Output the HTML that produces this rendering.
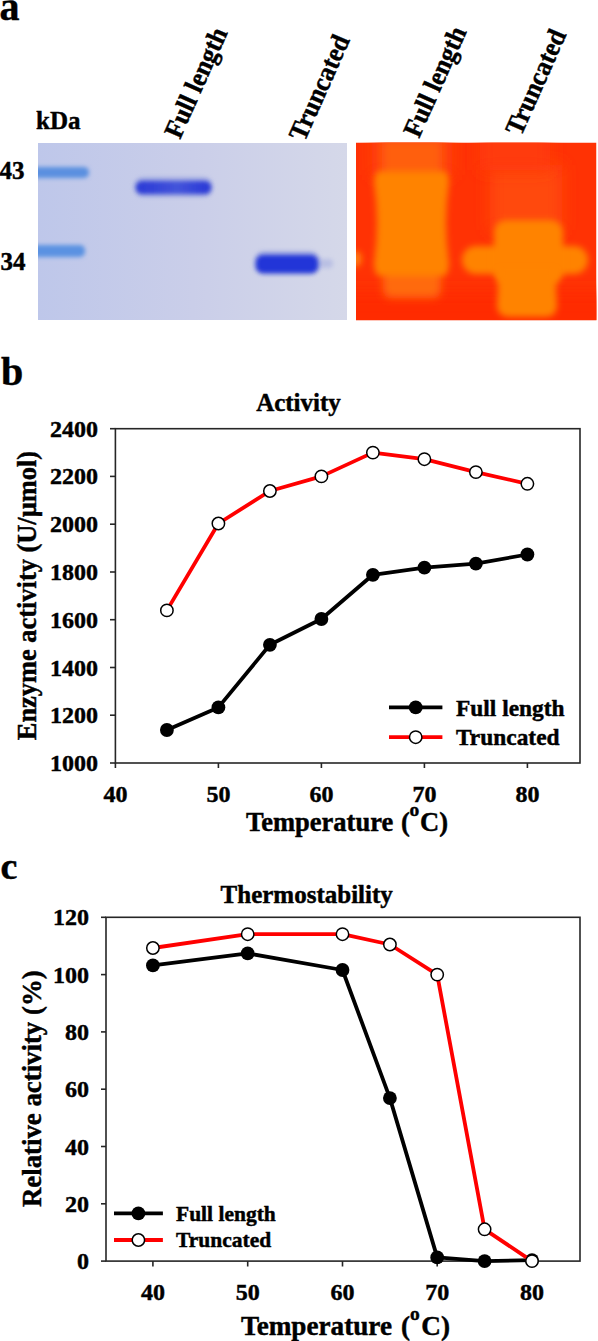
<!DOCTYPE html>
<html><head><meta charset="utf-8"><style>
html,body{margin:0;padding:0;background:#fff;width:598px;height:1341px;overflow:hidden}
svg{display:block}
</style></head><body>
<svg width="598" height="1341" viewBox="0 0 598 1341">
<text x="-0.5" y="20" font-family="Liberation Serif" font-weight="bold" stroke="#000" stroke-width="0.45" font-size="40">a</text>
<text x="36" y="129" font-family="Liberation Serif" font-weight="bold" stroke="#000" stroke-width="0.45" font-size="25">kDa</text>
<text x="-0.5" y="179" font-family="Liberation Serif" font-weight="bold" stroke="#000" stroke-width="0.45" font-size="25">43</text>
<text x="0.5" y="270" font-family="Liberation Serif" font-weight="bold" stroke="#000" stroke-width="0.45" font-size="25">34</text>
<text transform="translate(180,140) rotate(-66) scale(0.94,1)" font-family="Liberation Serif" font-weight="bold" stroke="#000" stroke-width="0.45" font-size="27">Full length</text>
<text transform="translate(304.5,142.5) rotate(-66) scale(0.94,1)" font-family="Liberation Serif" font-weight="bold" stroke="#000" stroke-width="0.45" font-size="27">Truncated</text>
<text transform="translate(419,139) rotate(-66) scale(0.94,1)" font-family="Liberation Serif" font-weight="bold" stroke="#000" stroke-width="0.45" font-size="27">Full length</text>
<text transform="translate(521,137) rotate(-66) scale(0.94,1)" font-family="Liberation Serif" font-weight="bold" stroke="#000" stroke-width="0.45" font-size="27">Truncated</text>
<defs>
<linearGradient id="gbl" x1="0" y1="0" x2="1" y2="0">
<stop offset="0" stop-color="#bec7ea"/><stop offset="0.5" stop-color="#cacee9"/><stop offset="1" stop-color="#d5d8e9"/></linearGradient>
<linearGradient id="gfl" x1="0" y1="0" x2="1" y2="0"><stop offset="0" stop-color="#2a3ad6"/><stop offset="0.25" stop-color="#3444d8"/><stop offset="0.55" stop-color="#4454da"/><stop offset="0.85" stop-color="#3040d8"/><stop offset="1" stop-color="#2838d6"/></linearGradient>
<filter id="bl2" x="-50%" y="-50%" width="200%" height="200%"><feGaussianBlur stdDeviation="2"/></filter>
<filter id="bl3" x="-50%" y="-50%" width="200%" height="200%"><feGaussianBlur stdDeviation="3"/></filter>
<filter id="bl5" x="-50%" y="-50%" width="200%" height="200%"><feGaussianBlur stdDeviation="5"/></filter>
<filter id="bl4" x="-50%" y="-50%" width="200%" height="200%"><feGaussianBlur stdDeviation="4"/></filter>
<filter id="bl8" x="-50%" y="-50%" width="200%" height="200%"><feGaussianBlur stdDeviation="8"/></filter>
<clipPath id="cpb"><rect x="38" y="143" width="309" height="177"/></clipPath>
<clipPath id="cpo"><rect x="356" y="142.5" width="240.5" height="177.7"/></clipPath>
</defs>
<g clip-path="url(#cpb)">
<rect x="38" y="143" width="309" height="177" fill="url(#gbl)"/>
<rect x="30" y="167" width="59" height="11" rx="5" fill="#5a90e0" filter="url(#bl2)"/>
<rect x="30" y="245" width="55" height="12" rx="5" fill="#5a92e2" filter="url(#bl2)"/>
<rect x="134" y="177" width="79" height="20" rx="9" fill="#8a96dc" opacity="0.55" filter="url(#bl2)"/>
<rect x="136" y="181" width="75" height="13" rx="6" fill="url(#gfl)" filter="url(#bl2)"/>
<rect x="254" y="251" width="66" height="24" rx="10" fill="#7c88dc" opacity="0.5" filter="url(#bl2)"/>
<rect x="315" y="259" width="18" height="9" rx="4" fill="#a8b0e0" opacity="0.6" filter="url(#bl2)"/>
<rect x="256" y="255" width="62" height="18" rx="7" fill="#2434d8" filter="url(#bl2)"/>
</g>
<g clip-path="url(#cpo)">
<rect x="356" y="142.5" width="240.5" height="177.7" fill="#ff3204"/>
<rect x="372" y="120" width="80" height="55" fill="#ff420a" filter="url(#bl8)"/>
<rect x="490" y="165" width="72" height="65" fill="#ff4a0c" filter="url(#bl8)"/>
<rect x="480" y="120" width="70" height="50" fill="#ff3a08" filter="url(#bl8)"/>
<rect x="330" y="292" width="280" height="40" fill="#ff2a00" filter="url(#bl8)"/>
<rect x="382" y="140" width="60" height="38" fill="#ff5e0e" filter="url(#bl5)"/>
<rect x="383" y="266" width="58" height="32" rx="8" fill="#ff6a0e" filter="url(#bl4)"/>
<path d="M380,171 L443,171 Q449,171 449,183 Q443,224 449,262 Q449,276 442,276 L381,276 Q374,276 374,262 Q380,224 374,183 Q374,171 380,171 Z" fill="#ff8306" filter="url(#bl3)"/>
<ellipse cx="356" cy="259" rx="6" ry="8" fill="#ff7a0a" filter="url(#bl3)"/>
<rect x="462" y="246" width="126" height="28" rx="14" fill="#ff8306" filter="url(#bl3)"/>
<rect x="494" y="220" width="69" height="64" rx="12" fill="#ff8306" filter="url(#bl3)"/>
<path d="M499,270 L555,270 L557,305 Q557,317 545,317 L510,317 Q497,317 497,305 Z" fill="#ff8306" filter="url(#bl3)"/>
</g>
<text x="1" y="385" font-family="Liberation Serif" font-weight="bold" stroke="#000" stroke-width="0.45" font-size="40">b</text>
<text x="298.5" y="410.7" font-family="Liberation Serif" font-weight="bold" stroke="#000" stroke-width="0.45" font-size="25" text-anchor="middle">Activity</text>
<rect x="115.4" y="428.7" width="464.6" height="334.3" fill="none" stroke="#262626" stroke-width="1.6"/>
<line x1="110" y1="763.0" x2="115.4" y2="763.0" stroke="#262626" stroke-width="1.6"/>
<text x="98" y="771.0" font-family="Liberation Serif" font-weight="bold" stroke="#000" stroke-width="0.45" font-size="24" text-anchor="end">1000</text>
<line x1="110" y1="715.2" x2="115.4" y2="715.2" stroke="#262626" stroke-width="1.6"/>
<text x="98" y="723.2" font-family="Liberation Serif" font-weight="bold" stroke="#000" stroke-width="0.45" font-size="24" text-anchor="end">1200</text>
<line x1="110" y1="667.5" x2="115.4" y2="667.5" stroke="#262626" stroke-width="1.6"/>
<text x="98" y="675.5" font-family="Liberation Serif" font-weight="bold" stroke="#000" stroke-width="0.45" font-size="24" text-anchor="end">1400</text>
<line x1="110" y1="619.7" x2="115.4" y2="619.7" stroke="#262626" stroke-width="1.6"/>
<text x="98" y="627.7" font-family="Liberation Serif" font-weight="bold" stroke="#000" stroke-width="0.45" font-size="24" text-anchor="end">1600</text>
<line x1="110" y1="572.0" x2="115.4" y2="572.0" stroke="#262626" stroke-width="1.6"/>
<text x="98" y="580.0" font-family="Liberation Serif" font-weight="bold" stroke="#000" stroke-width="0.45" font-size="24" text-anchor="end">1800</text>
<line x1="110" y1="524.2" x2="115.4" y2="524.2" stroke="#262626" stroke-width="1.6"/>
<text x="98" y="532.2" font-family="Liberation Serif" font-weight="bold" stroke="#000" stroke-width="0.45" font-size="24" text-anchor="end">2000</text>
<line x1="110" y1="476.4" x2="115.4" y2="476.4" stroke="#262626" stroke-width="1.6"/>
<text x="98" y="484.4" font-family="Liberation Serif" font-weight="bold" stroke="#000" stroke-width="0.45" font-size="24" text-anchor="end">2200</text>
<line x1="110" y1="428.7" x2="115.4" y2="428.7" stroke="#262626" stroke-width="1.6"/>
<text x="98" y="436.7" font-family="Liberation Serif" font-weight="bold" stroke="#000" stroke-width="0.45" font-size="24" text-anchor="end">2400</text>
<line x1="115.4" y1="763" x2="115.4" y2="768" stroke="#262626" stroke-width="1.6"/>
<text x="115.4" y="801.5" font-family="Liberation Serif" font-weight="bold" stroke="#000" stroke-width="0.45" font-size="24" text-anchor="middle">40</text>
<line x1="218.4" y1="763" x2="218.4" y2="768" stroke="#262626" stroke-width="1.6"/>
<text x="218.4" y="801.5" font-family="Liberation Serif" font-weight="bold" stroke="#000" stroke-width="0.45" font-size="24" text-anchor="middle">50</text>
<line x1="321.4" y1="763" x2="321.4" y2="768" stroke="#262626" stroke-width="1.6"/>
<text x="321.4" y="801.5" font-family="Liberation Serif" font-weight="bold" stroke="#000" stroke-width="0.45" font-size="24" text-anchor="middle">60</text>
<line x1="424.4" y1="763" x2="424.4" y2="768" stroke="#262626" stroke-width="1.6"/>
<text x="424.4" y="801.5" font-family="Liberation Serif" font-weight="bold" stroke="#000" stroke-width="0.45" font-size="24" text-anchor="middle">70</text>
<line x1="527.4" y1="763" x2="527.4" y2="768" stroke="#262626" stroke-width="1.6"/>
<text x="527.4" y="801.5" font-family="Liberation Serif" font-weight="bold" stroke="#000" stroke-width="0.45" font-size="24" text-anchor="middle">80</text>
<text x="246.0" y="830.6" font-family="Liberation Serif" font-weight="bold" stroke="#000" stroke-width="0.45" font-size="26.5">Temperature</text>
<text x="401.0" y="830.6" font-family="Liberation Serif" font-weight="bold" stroke="#000" stroke-width="0.45" font-size="26.5">(</text>
<text x="409.6" y="816.0" font-family="Liberation Serif" font-weight="bold" stroke="#000" stroke-width="0.45" font-size="19.5">o</text>
<text x="420.0" y="830.6" font-family="Liberation Serif" font-weight="bold" stroke="#000" stroke-width="0.45" font-size="26.5">C)</text>
<text transform="translate(35.5,595.5) rotate(-90)" font-family="Liberation Serif" font-weight="bold" stroke="#000" stroke-width="0.45" font-size="26.4" text-anchor="middle">Enzyme activity (U/µmol)</text>
<polyline points="166.9,730.0 218.4,707.4 269.9,644.8 321.4,619.0 372.9,574.8 424.4,567.7 475.9,563.6 527.4,554.5" fill="none" stroke="#000" stroke-width="3.8" stroke-linejoin="round"/>
<circle cx="166.9" cy="730.0" r="6.9" fill="#000"/><circle cx="218.4" cy="707.4" r="6.9" fill="#000"/><circle cx="269.9" cy="644.8" r="6.9" fill="#000"/><circle cx="321.4" cy="619.0" r="6.9" fill="#000"/><circle cx="372.9" cy="574.8" r="6.9" fill="#000"/><circle cx="424.4" cy="567.7" r="6.9" fill="#000"/><circle cx="475.9" cy="563.6" r="6.9" fill="#000"/><circle cx="527.4" cy="554.5" r="6.9" fill="#000"/>
<polyline points="166.9,610.4 218.4,523.5 269.9,491.0 321.4,476.4 372.9,452.6 424.4,459.2 475.9,472.1 527.4,483.8" fill="none" stroke="#ff0000" stroke-width="3.8" stroke-linejoin="round"/>
<circle cx="166.9" cy="610.4" r="6.2" fill="#fff" stroke="#000" stroke-width="1.5"/><circle cx="218.4" cy="523.5" r="6.2" fill="#fff" stroke="#000" stroke-width="1.5"/><circle cx="269.9" cy="491.0" r="6.2" fill="#fff" stroke="#000" stroke-width="1.5"/><circle cx="321.4" cy="476.4" r="6.2" fill="#fff" stroke="#000" stroke-width="1.5"/><circle cx="372.9" cy="452.6" r="6.2" fill="#fff" stroke="#000" stroke-width="1.5"/><circle cx="424.4" cy="459.2" r="6.2" fill="#fff" stroke="#000" stroke-width="1.5"/><circle cx="475.9" cy="472.1" r="6.2" fill="#fff" stroke="#000" stroke-width="1.5"/><circle cx="527.4" cy="483.8" r="6.2" fill="#fff" stroke="#000" stroke-width="1.5"/>
<line x1="389" y1="707.4" x2="442.4" y2="707.4" stroke="#000" stroke-width="3.8"/>
<circle cx="415.7" cy="707.4" r="6.9" fill="#000"/>
<line x1="389" y1="737.2" x2="442.4" y2="737.2" stroke="#ff0000" stroke-width="3.8"/>
<circle cx="415.7" cy="737.2" r="6.2" fill="#fff" stroke="#000" stroke-width="1.5"/>
<text x="456" y="716" font-family="Liberation Serif" font-weight="bold" stroke="#000" stroke-width="0.45" font-size="23.4">Full length</text>
<text x="456" y="744.5" font-family="Liberation Serif" font-weight="bold" stroke="#000" stroke-width="0.45" font-size="23.4">Truncated</text>
<text x="0.5" y="879" font-family="Liberation Serif" font-weight="bold" stroke="#000" stroke-width="0.45" font-size="38">c</text>
<text x="306.7" y="903.1" font-family="Liberation Serif" font-weight="bold" stroke="#000" stroke-width="0.45" font-size="25" text-anchor="middle">Thermostability</text>
<rect x="106" y="917.3" width="474" height="343.8" fill="none" stroke="#262626" stroke-width="1.6"/>
<line x1="101" y1="1261.1" x2="106" y2="1261.1" stroke="#262626" stroke-width="1.6"/>
<text x="89" y="1269.1" font-family="Liberation Serif" font-weight="bold" stroke="#000" stroke-width="0.45" font-size="24" text-anchor="end">0</text>
<line x1="101" y1="1203.8" x2="106" y2="1203.8" stroke="#262626" stroke-width="1.6"/>
<text x="89" y="1211.8" font-family="Liberation Serif" font-weight="bold" stroke="#000" stroke-width="0.45" font-size="24" text-anchor="end">20</text>
<line x1="101" y1="1146.5" x2="106" y2="1146.5" stroke="#262626" stroke-width="1.6"/>
<text x="89" y="1154.5" font-family="Liberation Serif" font-weight="bold" stroke="#000" stroke-width="0.45" font-size="24" text-anchor="end">40</text>
<line x1="101" y1="1089.2" x2="106" y2="1089.2" stroke="#262626" stroke-width="1.6"/>
<text x="89" y="1097.2" font-family="Liberation Serif" font-weight="bold" stroke="#000" stroke-width="0.45" font-size="24" text-anchor="end">60</text>
<line x1="101" y1="1031.9" x2="106" y2="1031.9" stroke="#262626" stroke-width="1.6"/>
<text x="89" y="1039.9" font-family="Liberation Serif" font-weight="bold" stroke="#000" stroke-width="0.45" font-size="24" text-anchor="end">80</text>
<line x1="101" y1="974.6" x2="106" y2="974.6" stroke="#262626" stroke-width="1.6"/>
<text x="89" y="982.6" font-family="Liberation Serif" font-weight="bold" stroke="#000" stroke-width="0.45" font-size="24" text-anchor="end">100</text>
<line x1="101" y1="917.3" x2="106" y2="917.3" stroke="#262626" stroke-width="1.6"/>
<text x="89" y="925.3" font-family="Liberation Serif" font-weight="bold" stroke="#000" stroke-width="0.45" font-size="24" text-anchor="end">120</text>
<line x1="152.9" y1="1261.1" x2="152.9" y2="1266.5" stroke="#262626" stroke-width="1.6"/>
<text x="152.9" y="1300" font-family="Liberation Serif" font-weight="bold" stroke="#000" stroke-width="0.45" font-size="24" text-anchor="middle">40</text>
<line x1="247.7" y1="1261.1" x2="247.7" y2="1266.5" stroke="#262626" stroke-width="1.6"/>
<text x="247.7" y="1300" font-family="Liberation Serif" font-weight="bold" stroke="#000" stroke-width="0.45" font-size="24" text-anchor="middle">50</text>
<line x1="342.5" y1="1261.1" x2="342.5" y2="1266.5" stroke="#262626" stroke-width="1.6"/>
<text x="342.5" y="1300" font-family="Liberation Serif" font-weight="bold" stroke="#000" stroke-width="0.45" font-size="24" text-anchor="middle">60</text>
<line x1="437.2" y1="1261.1" x2="437.2" y2="1266.5" stroke="#262626" stroke-width="1.6"/>
<text x="437.2" y="1300" font-family="Liberation Serif" font-weight="bold" stroke="#000" stroke-width="0.45" font-size="24" text-anchor="middle">70</text>
<line x1="532.0" y1="1261.1" x2="532.0" y2="1266.5" stroke="#262626" stroke-width="1.6"/>
<text x="532.0" y="1300" font-family="Liberation Serif" font-weight="bold" stroke="#000" stroke-width="0.45" font-size="24" text-anchor="middle">80</text>
<text x="241.0" y="1335.2" font-family="Liberation Serif" font-weight="bold" stroke="#000" stroke-width="0.45" font-size="27.2">Temperature</text>
<text x="401.0" y="1335.2" font-family="Liberation Serif" font-weight="bold" stroke="#000" stroke-width="0.45" font-size="27.2">(</text>
<text x="410.0" y="1320.0" font-family="Liberation Serif" font-weight="bold" stroke="#000" stroke-width="0.45" font-size="19.5">o</text>
<text x="421.3" y="1335.2" font-family="Liberation Serif" font-weight="bold" stroke="#000" stroke-width="0.45" font-size="27.2">C)</text>
<text transform="translate(40.5,1088.7) rotate(-90)" font-family="Liberation Serif" font-weight="bold" stroke="#000" stroke-width="0.45" font-size="26.8" text-anchor="middle">Relative activity (%)</text>
<polyline points="152.9,965.4 247.7,953.4 342.5,970.0 389.9,1098.1 437.2,1257.4 484.6,1261.1 532.0,1260.2" fill="none" stroke="#000" stroke-width="3.8" stroke-linejoin="round"/>
<circle cx="152.9" cy="965.4" r="6.9" fill="#000"/><circle cx="247.7" cy="953.4" r="6.9" fill="#000"/><circle cx="342.5" cy="970.0" r="6.9" fill="#000"/><circle cx="389.9" cy="1098.1" r="6.9" fill="#000"/><circle cx="437.2" cy="1257.4" r="6.9" fill="#000"/><circle cx="484.6" cy="1261.1" r="6.9" fill="#000"/><circle cx="532.0" cy="1260.2" r="6.9" fill="#000"/>
<polyline points="152.9,948.0 247.7,934.2 342.5,934.2 389.9,944.5 437.2,974.6 484.6,1229.3 532.0,1261.1" fill="none" stroke="#ff0000" stroke-width="3.8" stroke-linejoin="round"/>
<circle cx="152.9" cy="948.0" r="6.2" fill="#fff" stroke="#000" stroke-width="1.5"/><circle cx="247.7" cy="934.2" r="6.2" fill="#fff" stroke="#000" stroke-width="1.5"/><circle cx="342.5" cy="934.2" r="6.2" fill="#fff" stroke="#000" stroke-width="1.5"/><circle cx="389.9" cy="944.5" r="6.2" fill="#fff" stroke="#000" stroke-width="1.5"/><circle cx="437.2" cy="974.6" r="6.2" fill="#fff" stroke="#000" stroke-width="1.5"/><circle cx="484.6" cy="1229.3" r="6.2" fill="#fff" stroke="#000" stroke-width="1.5"/><circle cx="532.0" cy="1261.1" r="6.2" fill="#fff" stroke="#000" stroke-width="1.5"/>
<line x1="114" y1="1213.4" x2="162.9" y2="1213.4" stroke="#000" stroke-width="3.8"/>
<circle cx="138.4" cy="1213.4" r="6.9" fill="#000"/>
<line x1="114" y1="1240" x2="162.9" y2="1240" stroke="#ff0000" stroke-width="3.8"/>
<circle cx="138.4" cy="1240" r="6.2" fill="#fff" stroke="#000" stroke-width="1.5"/>
<text x="176" y="1221.2" font-family="Liberation Serif" font-weight="bold" stroke="#000" stroke-width="0.45" font-size="21.5">Full length</text>
<text x="176" y="1247" font-family="Liberation Serif" font-weight="bold" stroke="#000" stroke-width="0.45" font-size="21.5">Truncated</text>
</svg>
</body></html>
